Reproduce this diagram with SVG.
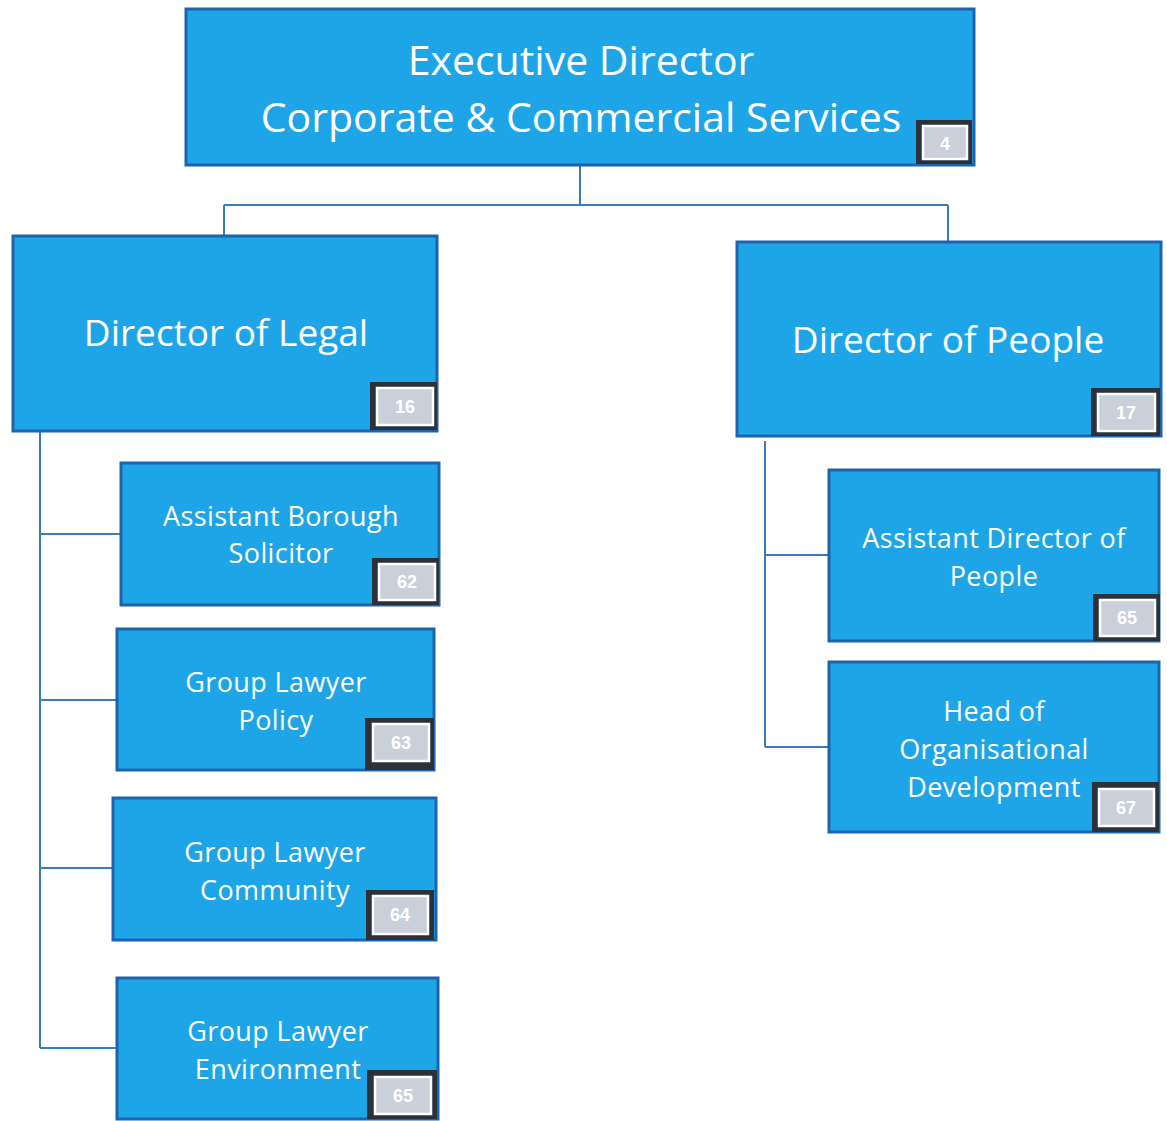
<svg xmlns="http://www.w3.org/2000/svg" width="1167" height="1121" viewBox="0 0 1167 1121">
<style>
.box{fill:#1ea5e8;stroke:#1c64ad;stroke-width:3}
.t{font-family:"Open Sans","Liberation Sans",sans-serif;fill:#ffffff;text-anchor:middle}
.big{font-size:41px}
.mid{font-size:37px}
.sm{font-size:27px;letter-spacing:0.4px}
.bo{fill:#2b313b}
.bi{fill:#c9d0da;stroke:#ffffff;stroke-width:2.5}
.bt{font-family:"Liberation Sans",sans-serif;font-size:18px;font-weight:bold;fill:#ffffff;text-anchor:middle}
.c{stroke:#3b7cb8;stroke-width:2;fill:none}
</style>
<rect width="1167" height="1121" fill="#ffffff"/>
<g id="connectors">
<path class="c" d="M580 166V204M224 205H948M224 205V235M948 205V241"/>
<path class="c" d="M40 432V1048M40 534H120M40 700H116M40 868H112M40 1048H116"/>
<path class="c" d="M765 441V747M765 555H828M765 747H828"/>
</g>
<g id="exec">
<rect class="box" x="186" y="9" width="788" height="156"/>
<text class="t big" x="581" y="75">Executive Director</text>
<text class="t big" x="581" y="132">Corporate &amp; Commercial Services</text>
<rect class="bo" x="916" y="120" width="56" height="44"/>
<rect class="bi" x="923" y="126" width="44" height="33"/>
<text class="bt" x="945" y="150">4</text>
</g>
<g id="legal">
<rect class="box" x="13" y="236" width="424" height="195"/>
<text class="t mid" x="226" y="346">Director of Legal</text>
<rect class="bo" x="370" y="382" width="67" height="48"/>
<rect class="bi" x="377" y="388" width="56" height="37"/>
<text class="bt" x="405" y="413">16</text>
</g>
<g id="people">
<rect class="box" x="737" y="242" width="424" height="194"/>
<text class="t mid" x="948" y="353">Director of People</text>
<rect class="bo" x="1091" y="388" width="69" height="48"/>
<rect class="bi" x="1098" y="394" width="57" height="37"/>
<text class="bt" x="1126" y="419">17</text>
</g>
<g id="abs">
<rect class="box" x="121" y="463" width="318" height="142"/>
<text class="t sm" x="281" y="526">Assistant Borough</text>
<text class="t sm" x="281" y="563">Solicitor</text>
<rect class="bo" x="372" y="558" width="67" height="47"/>
<rect class="bi" x="379" y="564" width="56" height="36"/>
<text class="bt" x="407" y="588">62</text>
</g>
<g id="glp">
<rect class="box" x="117" y="629" width="317" height="141"/>
<text class="t sm" x="276" y="692">Group Lawyer</text>
<text class="t sm" x="276" y="730">Policy</text>
<rect class="bo" x="365" y="718" width="69" height="52"/>
<rect class="bi" x="373" y="724" width="56" height="37"/>
<text class="bt" x="401" y="749">63</text>
</g>
<g id="glc">
<rect class="box" x="113" y="798" width="323" height="142"/>
<text class="t sm" x="275" y="862">Group Lawyer</text>
<text class="t sm" x="275" y="900">Community</text>
<rect class="bo" x="366" y="890" width="68" height="50"/>
<rect class="bi" x="373" y="896" width="55" height="38"/>
<text class="bt" x="400" y="921">64</text>
</g>
<g id="gle">
<rect class="box" x="117" y="978" width="321" height="141"/>
<text class="t sm" x="278" y="1041">Group Lawyer</text>
<text class="t sm" x="278" y="1079">Environment</text>
<rect class="bo" x="367" y="1070" width="70" height="49"/>
<rect class="bi" x="375" y="1077" width="56" height="37"/>
<text class="bt" x="403" y="1102">65</text>
</g>
<g id="adp">
<rect class="box" x="829" y="470" width="330" height="171"/>
<text class="t sm" x="994" y="548">Assistant Director of</text>
<text class="t sm" x="994" y="586">People</text>
<rect class="bo" x="1093" y="594" width="67" height="47"/>
<rect class="bi" x="1100" y="600" width="55" height="36"/>
<text class="bt" x="1127" y="624">65</text>
</g>
<g id="hod">
<rect class="box" x="829" y="662" width="330" height="170"/>
<text class="t sm" x="994" y="721">Head of</text>
<text class="t sm" x="994" y="759">Organisational</text>
<text class="t sm" x="994" y="797">Development</text>
<rect class="bo" x="1092" y="782" width="67" height="50"/>
<rect class="bi" x="1099" y="789" width="55" height="37"/>
<text class="bt" x="1126" y="814">67</text>
</g>
</svg>
